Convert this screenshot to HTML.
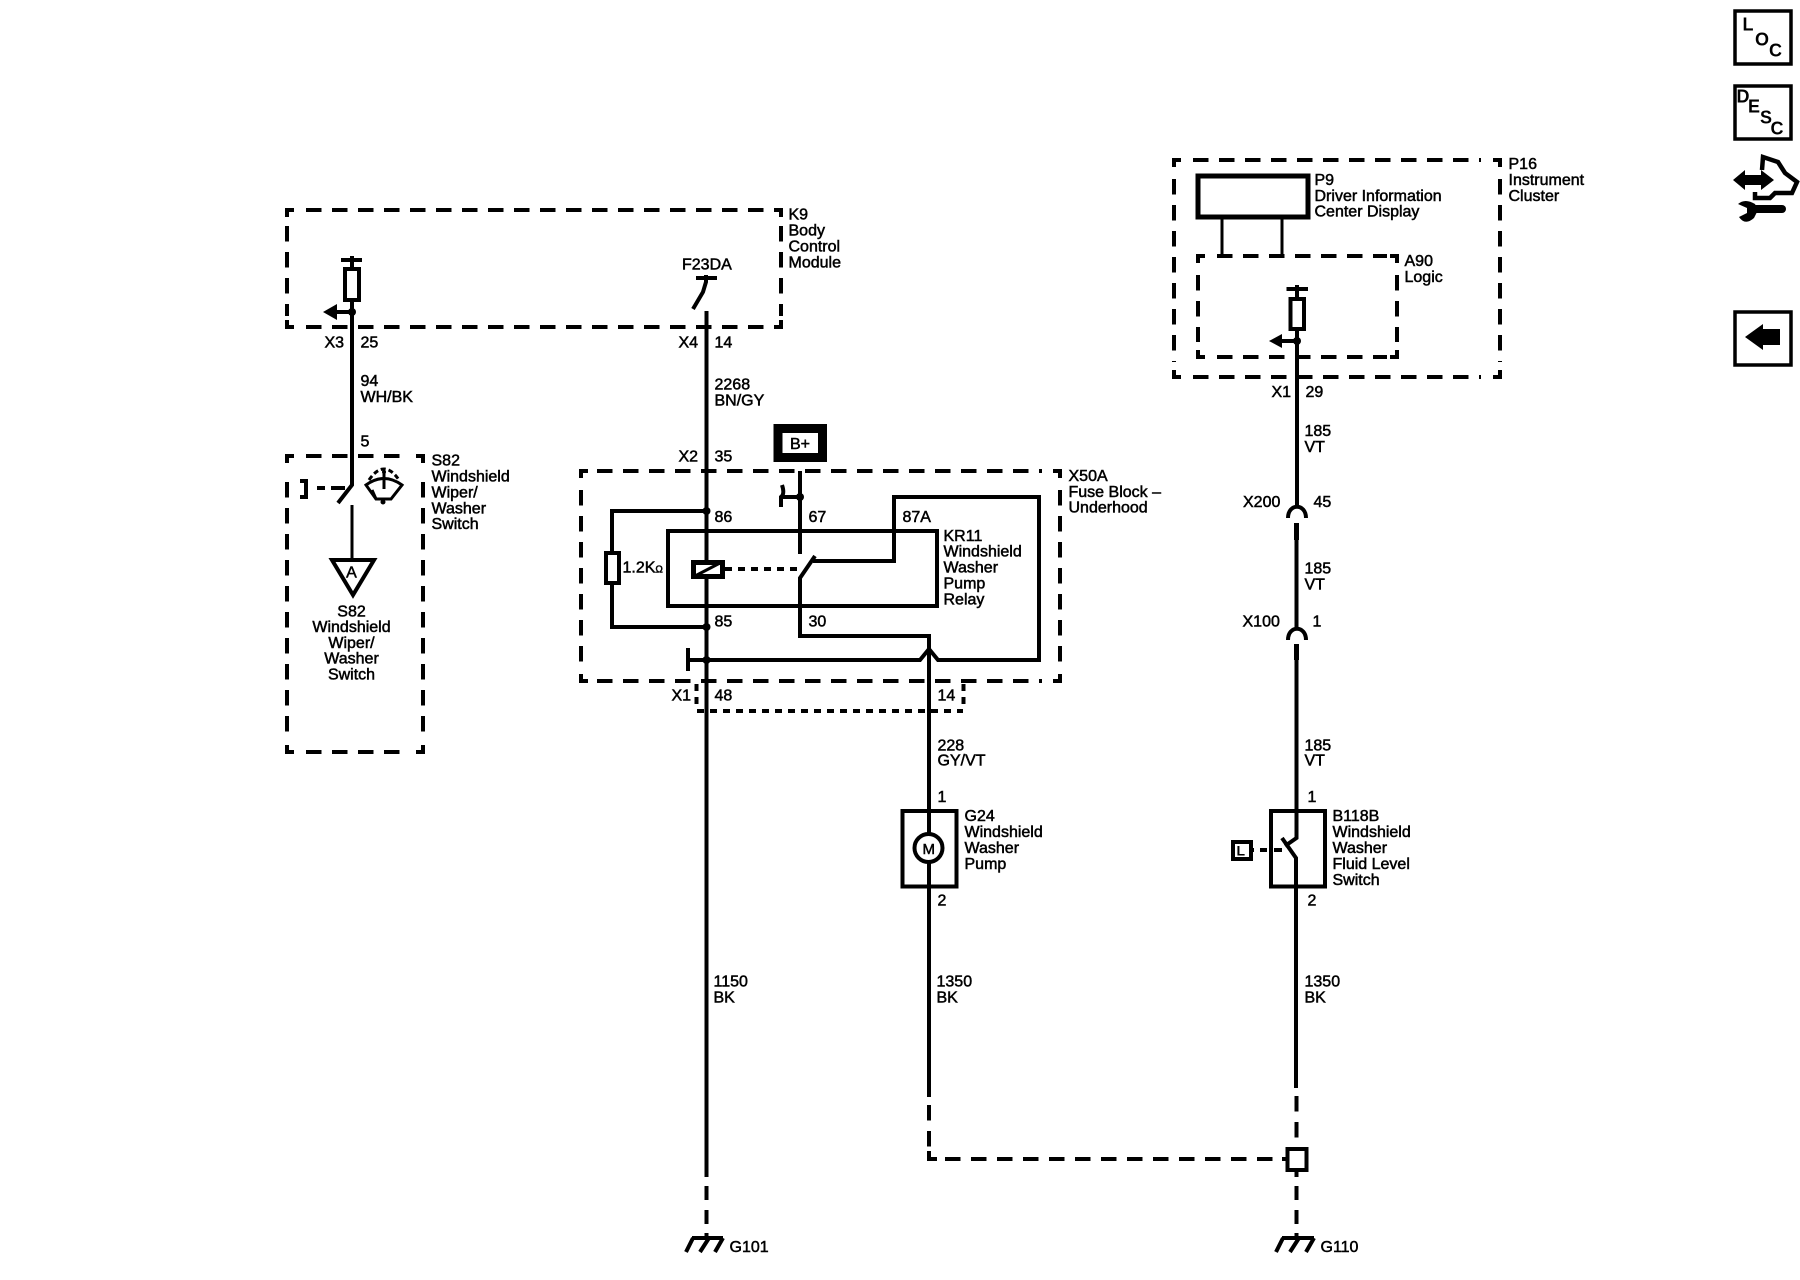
<!DOCTYPE html>
<html><head><meta charset="utf-8"><style>
html,body{margin:0;padding:0;background:#fff}
svg{display:block}
text{font-family:"Liberation Sans",sans-serif;font-size:16px;fill:#000;stroke:#000;stroke-width:.5px}
.w{fill:none;stroke:#000;stroke-width:4;stroke-linejoin:miter}
.t{fill:none;stroke:#000;stroke-width:3}
.d{fill:none;stroke:#000;stroke-width:4;stroke-dasharray:15.5 10.5}
.s{fill:none;stroke:#000;stroke-width:4;stroke-dasharray:7 6}
.k{fill:#000;stroke:none}
.b{font-weight:bold;stroke:none;font-size:18px}
</style></head><body>
<svg width="1800" height="1280" viewBox="0 0 1800 1280" xmlns="http://www.w3.org/2000/svg">
<rect width="1800" height="1280" fill="#fff"/>

<!-- dashed boxes -->
<path class="w" d="M287 217V210H294M774 210H781V217M781 320V327H774M294 327H287V320"/>
<path class="d" d="M306 210H770M306 327H770M287 226V316M781 226V316"/>
<path class="w" d="M287 463V456H294M416 456H423V463M423 745V752H416M294 752H287V745"/>
<path class="d" d="M306 456H400M306 752H400M287 482V732M423 482V732"/>
<path class="w" d="M581 478V471H588M1053 471H1060V478M1060 674V681H1053M588 681H581V674"/>
<path class="d" d="M597 471H1042M597 681H1042M581 490V662M1060 490V662"/>
<path class="w" d="M1174 167V160H1181M1493 160H1500V167M1500 370V377H1493M1181 377H1174V370"/>
<path class="d" d="M1193 160H1481M1193 377H1481M1174 179V362M1500 179V362"/>
<path class="w" d="M1198 263V256H1205M1390 256H1397V263M1397 350V357H1390M1205 357H1198V350"/>
<path class="d" d="M1217 256H1387M1217 357H1387M1198 275V342M1397 275V342"/>
<path class="s" d="M696.500 684V708M963.500 684V708M697 711H963"/>

<!-- wire 1 (K9 / S82) -->
<path class="w" d="M341 260H362M352 256V269M352 300V485L338 503"/>
<rect class="w" x="345" y="269" width="14" height="31"/>
<circle class="k" cx="352" cy="312" r="4"/>
<path class="w" d="M335 312H352"/>
<path class="k" d="M323 312L337 304V320Z"/>
<path class="t" d="M352 505V558"/>
<path class="w" d="M332 560H374L353 595Z"/>
<path class="w" d="M300 481H306V497H300"/>
<path class="w" d="M317 488H325M331 488H345" />
<!-- wiper icon -->
<path class="t" d="M366 485Q384 472 402 485L391 499H376Z"/>
<path class="t" stroke-dasharray="5 3" d="M369 480Q384 458 399 480"/>
<path class="t" d="M384 472V489M376 499L372 490"/>
<circle class="k" cx="384" cy="472" r="2"/><circle class="k" cx="383" cy="502" r="2.500"/>

<!-- wire 2 -->
<path class="w" d="M696 278H717M706 275V282L703 292L693 309M706.500 311V1177"/>
<path class="w" d="M706.500 1186V1200M706.500 1210V1224M706.500 1233V1237"/>
<path class="w" d="M692 1238H723M693 1238L686 1252M709 1238L700 1252M723 1238L715 1252"/>

<!-- B+ -->
<rect x="778" y="428.500" width="44.500" height="29" fill="none" stroke="#000" stroke-width="9"/>
<text x="790" y="449" style="font-size:16px">B+</text>

<!-- relay / fuse block -->
<path class="w" d="M800 471V554M800 497H781M781 507V497Q785 494 782 485"/>
<circle class="k" cx="800" cy="497" r="4"/>
<path class="w" d="M706 511H612V553M612 583V627H706"/>
<circle class="k" cx="706.500" cy="511" r="4"/><circle class="k" cx="706.500" cy="627" r="4"/>
<rect class="w" x="606" y="553" width="13" height="30"/>
<rect class="w" x="668" y="531" width="269" height="75"/>
<rect x="693.500" y="562.500" width="29" height="14" fill="#fff" stroke="#000" stroke-width="5"/>
<path class="t" d="M695 576L720 563"/>
<path class="s" d="M725 569H798"/>
<path class="w" d="M800 636V578L815 556"/>
<path class="w" d="M813 561H894V497H1039V660H938L929 649L920 660H688M688 648V671"/>
<circle class="k" cx="706.500" cy="660" r="4"/>
<path class="w" d="M798 636H929V1097"/>
<path class="d" d="M929 1105V1150"/>
<path class="w" d="M929 1151V1159H937"/>
<path class="d" d="M945 1159H1282"/>

<!-- motor -->
<rect class="w" x="902.500" y="811" width="54" height="75.500"/>
<circle cx="928.500" cy="848" r="14" fill="#fff" stroke="#000" stroke-width="4"/>
<text x="922.500" y="854" style="font-size:15px">M</text>

<!-- wire 4 -->
<path class="w" d="M1286.500 289H1308M1297 285V299M1297 329V507"/>
<rect class="w" x="1290.500" y="299" width="13.500" height="30"/>
<circle class="k" cx="1297" cy="341" r="4"/>
<path class="w" d="M1280 341H1297"/>
<path class="k" d="M1269 341L1282 334V348Z"/>
<path class="w" d="M1222 218V256M1282 218V256" style="stroke-width:3"/>
<rect x="1198" y="176" width="110" height="41" fill="none" stroke="#000" stroke-width="5"/>
<path class="w" d="M1288 518C1288 503 1306 503 1306 518"/>
<path class="w" style="stroke-width:5" d="M1296.500 523V540"/><path class="w" d="M1296.500 540V628"/>
<path class="w" d="M1288 640C1288 625 1306 625 1306 640"/>
<path class="w" style="stroke-width:5" d="M1296.500 644V660"/><path class="w" d="M1296.500 660V838L1285 846M1282 838L1296 858V1088"/>
<rect class="w" x="1271" y="811" width="54" height="75.500"/>
<rect class="w" x="1233" y="842" width="18" height="17"/>
<path class="w" d="M1251 850H1254M1260 850H1267M1274 850H1282"/>
<text x="1236.500" y="855.500" class="b" style="font-size:14px">L</text>
<path class="d" d="M1296.500 1096V1148"/>
<path class="w" d="M1282 1159H1288"/>
<rect class="w" x="1287.500" y="1149" width="19" height="21"/>
<path class="w" d="M1296.500 1170V1177M1296.500 1186V1200M1296.500 1210V1224M1296.500 1233V1237"/>
<path class="w" d="M1282 1238H1314M1283 1238L1276 1252M1299 1238L1290 1252M1314 1238L1306 1252"/>

<!-- labels -->
<g transform="translate(-.5,-.6)">
<text x="789" y="220">K9</text><text x="789" y="236">Body</text><text x="789" y="252">Control</text><text x="789" y="268">Module</text>
<text x="682.500" y="270">F23DA</text>
<text x="325" y="348">X3</text><text x="361" y="348">25</text>
<text x="679" y="348">X4</text><text x="715" y="348">14</text>
<text x="361" y="386.500">94</text><text x="361" y="402.500">WH/BK</text>
<text x="715" y="390">2268</text><text x="715" y="406">BN/GY</text>
<text x="361" y="447">5</text>
<text x="679" y="462">X2</text><text x="715" y="462">35</text>
<text x="432" y="466">S82</text><text x="432" y="482">Windshield</text><text x="432" y="498">Wiper/</text><text x="432" y="514">Washer</text><text x="432" y="529.500">Switch</text>
<text x="352" y="578" text-anchor="middle">A</text>
<text x="352" y="617" text-anchor="middle">S82</text><text x="352" y="632.500" text-anchor="middle">Windshield</text><text x="352" y="648.500" text-anchor="middle">Wiper/</text><text x="352" y="664" text-anchor="middle">Washer</text><text x="352" y="680" text-anchor="middle">Switch</text>

<text x="1069" y="481.500">X50A</text><text x="1069" y="497.500">Fuse Block –</text><text x="1069" y="513">Underhood</text>
<text x="715" y="522.500">86</text><text x="809" y="522.500">67</text><text x="903" y="522.500">87A</text>
<text x="623" y="573">1.2K<tspan style="font-size:10px">Ω</tspan></text>
<text x="944" y="541.500">KR11</text><text x="944" y="557">Windshield</text><text x="944" y="573">Washer</text><text x="944" y="589">Pump</text><text x="944" y="605">Relay</text>
<text x="715" y="627">85</text><text x="809" y="627">30</text>
<text x="672" y="701">X1</text><text x="715" y="701">48</text><text x="938" y="701">14</text>
<text x="938" y="751">228</text><text x="938" y="766">GY/VT</text>
<text x="938" y="802.500">1</text><text x="938" y="906">2</text>
<text x="965" y="821.500">G24</text><text x="965" y="837.500">Windshield</text><text x="965" y="853.500">Washer</text><text x="965" y="869.500">Pump</text>
<text x="714" y="987">1150</text><text x="714" y="1003">BK</text>
<text x="937" y="987">1350</text><text x="937" y="1003">BK</text>
<text x="1305" y="987">1350</text><text x="1305" y="1003">BK</text>
<text x="730" y="1252.500">G101</text><text x="1321" y="1252.500">G110</text>

<text x="1509" y="169.500">P16</text><text x="1509" y="185.500">Instrument</text><text x="1509" y="201.500">Cluster</text>
<text x="1315" y="185.500">P9</text><text x="1315" y="201.500">Driver Information</text><text x="1315" y="217">Center Display</text>
<text x="1405" y="266.500">A90</text><text x="1405" y="282.500">Logic</text>
<text x="1272" y="397.500">X1</text><text x="1306" y="397.500">29</text>
<text x="1305" y="436.500">185</text><text x="1305" y="452.500">VT</text>
<text x="1243.500" y="507.500">X200</text><text x="1314" y="507.500">45</text>
<text x="1305" y="574">185</text><text x="1305" y="590">VT</text>
<text x="1243" y="627">X100</text><text x="1313" y="627">1</text>
<text x="1305" y="751">185</text><text x="1305" y="766">VT</text>
<text x="1308" y="802.500">1</text><text x="1308" y="906">2</text>
<text x="1333" y="821.500">B118B</text><text x="1333" y="837.500">Windshield</text><text x="1333" y="853.500">Washer</text><text x="1333" y="869.500">Fluid Level</text><text x="1333" y="885.500">Switch</text>
</g>

<!-- right icons -->
<rect x="1735" y="11" width="56" height="53" fill="none" stroke="#000" stroke-width="3.500"/>
<text x="1742.500" y="30.500" class="b">L</text><text x="1755" y="45.500" class="b">O</text><text x="1769" y="56.500" class="b">C</text>
<rect x="1735" y="86" width="56" height="53" fill="none" stroke="#000" stroke-width="3.500"/>
<text x="1736.500" y="102.500" class="b">D</text><text x="1748" y="112.500" class="b">E</text><text x="1760" y="123.500" class="b">S</text><text x="1770.500" y="134.500" class="b">C</text>
<path class="k" d="M1733 180L1745 170V175H1761V170L1774 180L1761 190V185H1745V190Z"/>
<path class="w" style="stroke-width:4.500" d="M1762 170L1763 157L1778 162L1785 173L1797 182L1792 193H1775L1770 198H1755V192"/>
<path class="w" style="stroke-width:8;stroke-linecap:round" d="M1755 209H1782"/>
<path class="k" d="M1738 204Q1745 198 1755 204L1758 210L1754 218Q1745 226 1739 217L1747 213L1747 208Z"/>
<rect x="1735" y="312" width="56" height="53" fill="none" stroke="#000" stroke-width="3.500"/>
<path class="k" d="M1745 337L1763 324V329H1780V345H1763V350Z"/>
</svg>
</body></html>
